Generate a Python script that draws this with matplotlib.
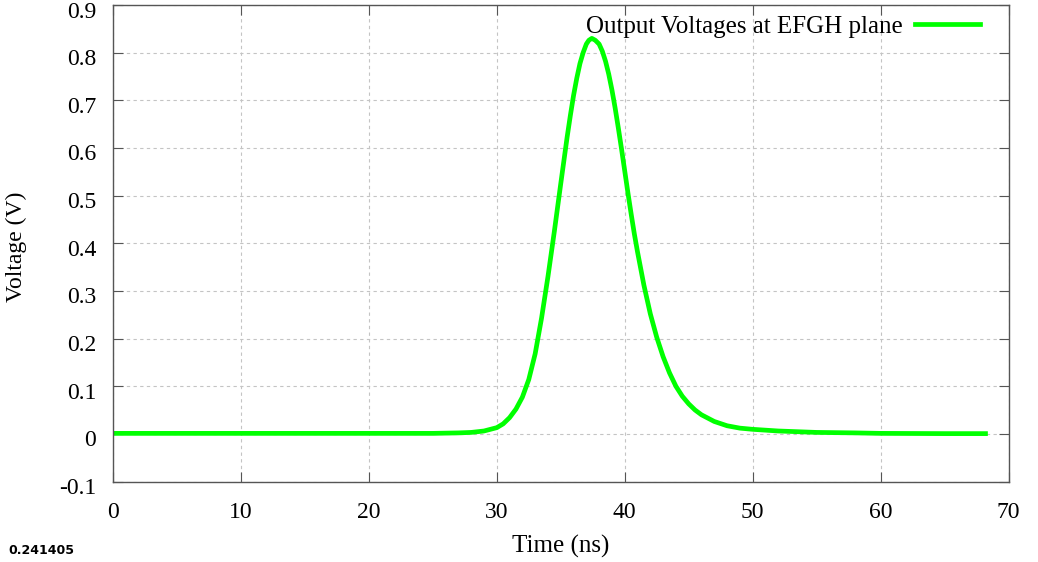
import matplotlib.pyplot as plt
from matplotlib.transforms import ScaledTranslation

# --- data ---
time_ns = [0, 5, 10, 15, 20, 25, 27, 28, 29, 30, 30.5, 31, 31.5, 32, 32.5,
           33, 33.5, 34, 34.5, 35, 35.5, 35.75, 36, 36.25, 36.5, 36.75, 37,
           37.2, 37.43, 37.7, 38, 38.25, 38.5, 38.75, 39, 39.25, 39.5, 39.75,
           40, 40.25, 40.5, 40.75, 41, 41.5, 42, 42.5, 43, 43.5, 44, 44.5,
           45, 45.5, 46, 47, 48, 49, 50, 52, 55, 58, 60, 65, 68.2]
voltage_v = [0.001, 0.001, 0.001, 0.001, 0.001, 0.001, 0.002, 0.003, 0.006,
             0.013, 0.021, 0.034, 0.052, 0.077, 0.114, 0.168, 0.243, 0.330,
             0.425, 0.525, 0.623, 0.668, 0.710, 0.746, 0.777, 0.800, 0.818,
             0.826, 0.830, 0.826, 0.818, 0.803, 0.782, 0.755, 0.722, 0.684,
             0.642, 0.598, 0.552, 0.506, 0.462, 0.420, 0.382, 0.312, 0.252,
             0.203, 0.162, 0.128, 0.100, 0.079, 0.063, 0.050, 0.040, 0.026,
             0.017, 0.012, 0.0095, 0.006, 0.003, 0.002, 0.001, 0.0005, 0.0005]

x_ticks = [0, 10, 20, 30, 40, 50, 60, 70]
y_ticks = [-0.1, 0, 0.1, 0.2, 0.3, 0.4, 0.5, 0.6, 0.7, 0.8, 0.9]
y_labels = ['-0.1', '0', '0.1', '0.2', '0.3', '0.4', '0.5', '0.6', '0.7', '0.8', '0.9']

plt.rcParams['font.family'] = ['Liberation Serif', 'DejaVu Serif']

fig = plt.figure(figsize=(10.38, 5.62), dpi=100)
ax = fig.add_axes([113 / 1038, 1 - 481.5 / 562, 895.5 / 1038, 476.5 / 562])

ax.plot(time_ns, voltage_v, color='#00ff00', linewidth=3.4,
        solid_joinstyle='round', label='Output Voltages at EFGH plane')

ax.set_xlim(0, 70)
ax.set_ylim(-0.1, 0.9)
ax.set_xticks(x_ticks)
ax.set_xticklabels([str(t) for t in x_ticks])
ax.set_yticks(y_ticks)
ax.set_yticklabels(y_labels)

ax.grid(True, color='#c4c4c4', linestyle=(0, (3, 3)), linewidth=0.8)
ax.tick_params(direction='in', top=True, right=True, length=7, width=0.8,
               color='#555555', labelsize=17)
ax.tick_params(axis='y', pad=12)
ax.tick_params(axis='x', pad=15)
for s in ax.spines.values():
    s.set_color('#555555')
    s.set_linewidth(1)

# y tick labels sit a few pixels below their ticks in the original
shift = ScaledTranslation(0, -4.5 / 100, fig.dpi_scale_trans)
for lab in ax.get_yticklabels():
    lab.set_transform(lab.get_transform() + shift)

ax.set_xlabel('Time (ns)', fontsize=18)
ax.xaxis.set_label_coords(0.5, -0.112)
ax.set_ylabel('Voltage (V)', fontsize=17)
ax.yaxis.set_label_coords(-0.0965, 0.492)

ax.legend(loc='upper right', bbox_to_anchor=(0.968, 0.979), frameon=False,
          markerfirst=False, fontsize=18, handlelength=2.6, handletextpad=0.5,
          borderpad=0, borderaxespad=0)

fig.text(8 / 1038, 1 - 554 / 562, '0.241405', family='DejaVu Sans',
         fontsize=9, fontweight='bold')

fig.savefig('out.png', dpi=100)
